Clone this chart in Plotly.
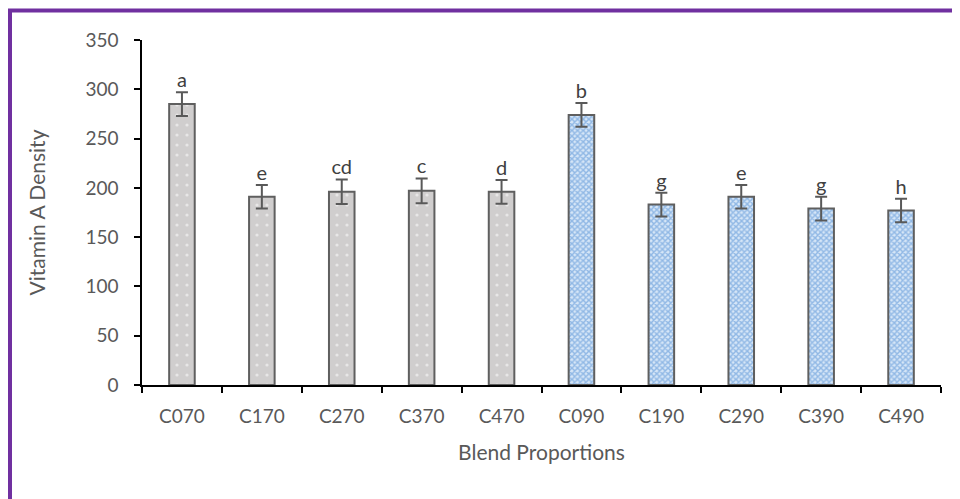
import plotly.graph_objects as go

categories = ["C070", "C170", "C270", "C370", "C470", "C090", "C190", "C290", "C390", "C490"]
values = [285, 191, 196, 197, 196, 274, 183, 191, 179, 177]
errors = [12, 12, 12.5, 12.5, 12, 12, 12, 12, 12, 12]
letters = ["a", "e", "cd", "c", "d", "b", "g", "e", "g", "h"]

grp1 = slice(0, 5)
grp2 = slice(5, 10)

FONT = "Lato"
TXT = "#595959"

fig = go.Figure()
fig.add_trace(go.Bar(
    x=categories[grp1], y=values[grp1],
    error_y=dict(type="data", array=errors[grp1], color="#595959", thickness=2, width=6),
    marker=dict(color="#D0CECE", line=dict(color="#5F5F5F", width=2),
                pattern=dict(shape=".", fgcolor="white", bgcolor="#D0CECE", size=10, solidity=0.08)),
    width=0.32, showlegend=False,
))
fig.add_trace(go.Bar(
    x=categories[grp2], y=values[grp2],
    error_y=dict(type="data", array=errors[grp2], color="#595959", thickness=2, width=6),
    marker=dict(color="#7FAEE3", line=dict(color="#5F5F5F", width=2),
                pattern=dict(shape="x", fgcolor="#4A8AD4", bgcolor="#D6E6F7", size=4, solidity=0.6)),
    width=0.32, showlegend=False,
))
fig.add_trace(go.Scatter(
    x=categories, y=[v + e for v, e in zip(values, errors)],
    mode="text", text=letters, textposition="top center",
    textfont=dict(family=FONT, size=20, color="#404040"),
    showlegend=False, hoverinfo="skip",
))

W, H = 952, 491
L, T = 134, 32
R = W - 933
B = H - 377

fig.update_layout(
    width=W, height=H,
    margin=dict(l=L, r=R, t=T, b=B),
    paper_bgcolor="white", plot_bgcolor="white",
    barmode="overlay",
    font=dict(family=FONT, color=TXT, size=19),
    xaxis=dict(
        type="category", categoryorder="array", categoryarray=categories,
        showline=True, linecolor="black", linewidth=1.5,
        ticks="outside", tickson="boundaries", ticklen=6, tickcolor="black", tickwidth=1.5,
        tickfont=dict(family=FONT, size=19, color=TXT),
        ticklabelstandoff=13,
        title=dict(text="Blend Proportions", font=dict(family=FONT, size=21, color=TXT), standoff=20),
        showgrid=False, range=[-0.5, 9.5],
    ),
    yaxis=dict(
        range=[0, 350], dtick=50, tick0=0,
        showline=True, linecolor="black", linewidth=1.5,
        ticks="outside", ticklen=6, tickcolor="black", tickwidth=1.5,
        tickfont=dict(family=FONT, size=19, color=TXT),
        ticklabelstandoff=12,
        title=dict(text="Vitamin A Density", font=dict(family=FONT, size=21, color=TXT), standoff=34),
        showgrid=False, zeroline=False,
    ),
)

# purple frame (top and left edges visible)
pw, ph = W - L - R, H - T - B
def px(x): return (x - L) / pw
def py(y): return (T + ph - y) / ph
fig.add_shape(type="rect", xref="paper", yref="paper",
              x0=px(2), x1=px(W + 20), y0=py(H + 20), y1=py(2.5),
              line=dict(color="#7030A0", width=4), fillcolor="rgba(0,0,0,0)", layer="above")

fig.write_html("out.html")
